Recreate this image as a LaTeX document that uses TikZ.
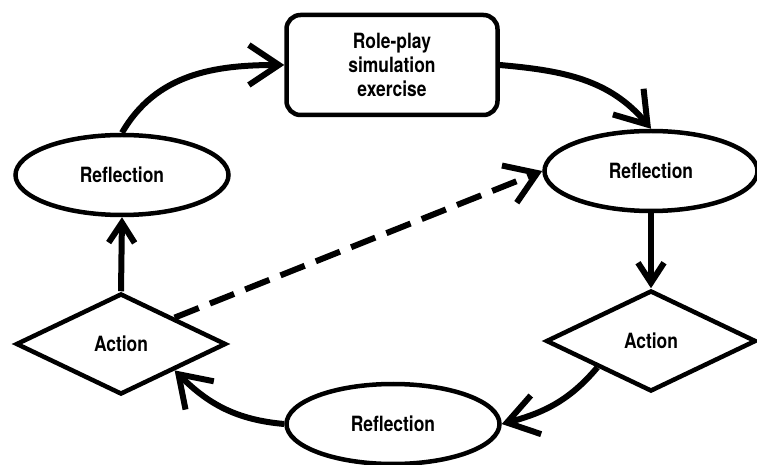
\documentclass[tikz,border=0pt]{standalone}
\usepackage{fontspec}
\setmainfont{TeX Gyre Heros}[FakeStretch=0.83]
\usetikzlibrary{shapes.geometric,arrows.meta}

\begin{document}
\begin{tikzpicture}[x=1bp,y=1bp,
  font=\fontsize{21bp}{24bp}\selectfont\bfseries,
  outline/.style={draw,line width=4.5bp,inner sep=0pt},
  refl/.style={outline,ellipse,minimum width=213bp,minimum height=80bp},
  act/.style={outline,diamond,minimum width=210bp,minimum height=101bp},
  task/.style={outline,rectangle,rounded corners=14bp,align=center,
    minimum width=211bp,minimum height=100bp},
  flow/.style={line width=6bp,-{Straight Barb[length=30bp,width=40bp]}},
  short flow/.style={line width=6bp,-{Straight Barb[length=20bp,width=26bp]}}]
  \useasboundingbox (0,0) rectangle (757,-465);
  % the cycle
  \node[task] (task) at (392,-65) {Role-play\\simulation\\exercise};
  \node[refl] (l1) at (122,-175) {Reflection};
  \node[refl] (r1) at (651,-171) {Reflection};
  \node[act]  (a1) at (121,-344) {Action};
  \node[act]  (a2) at (651,-341) {Action};
  \node[refl] (b1) at (393,-424) {Reflection};
  \draw[flow] (l1.north) to[out=60,in=180] (task.west);
  \draw[flow] (task.east) to[out=-5,in=130] (r1.north);
  \draw[short flow] (r1.south) -- (a2.north);
  \draw[flow] (a2.south west) to[out=230,in=15] (b1.east);
  \draw[flow] (b1.west) to[out=175,in=-45] (a1.south east);
  \draw[short flow] (a1.north) -- (l1.south);
  % shortcut
  \draw[flow,dash pattern=on 26bp off 12bp] (a1.north east) -- (r1.west);
\end{tikzpicture}
\end{document}
